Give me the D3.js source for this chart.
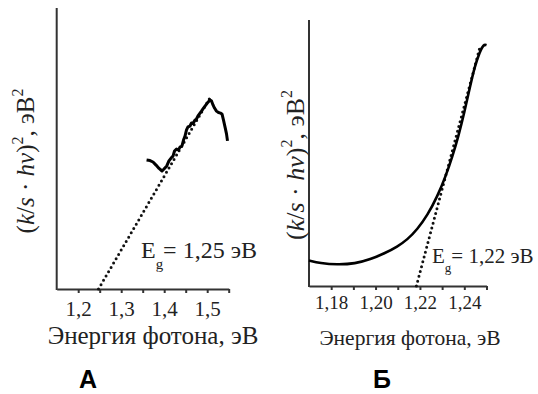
<!DOCTYPE html>
<html>
<head>
<meta charset="utf-8">
<script src="https://cdn.jsdelivr.net/npm/d3@7"></script>
<style>
  body { margin: 0; background: #fff; }
</style>
</head>
<body>
<div id="chart"></div>
<script>
var SERIF = "Liberation Serif";

// panel A: measured (k/s*hv)^2 vs photon energy
var aX = [1.359, 1.367, 1.374, 1.381, 1.388, 1.395, 1.3995, 1.406, 1.411, 1.416, 1.4205, 1.424, 1.4286, 1.4333, 1.4367, 1.4414,
          1.4449, 1.4484, 1.4519, 1.4553, 1.46, 1.4635, 1.467, 1.4716, 1.4751, 1.4786, 1.4833, 1.4867, 1.4902, 1.4949, 1.4984,
          1.5019, 1.5065, 1.51, 1.5135, 1.517, 1.5216, 1.5263, 1.5309, 1.5344, 1.5379, 1.5414, 1.5449, 1.5472];
var aY = [45.9, 45.7, 45.2, 44.1, 42.9, 42.0, 42.7, 43.8, 45.6, 46.6, 47.3, 49.1, 49.8, 49.5, 50.5, 50.9,
          53.0, 54.4, 56.6, 57.7, 58.0, 59.1, 58.9, 60.1, 60.5, 61.6, 62.6, 63.3, 64.1, 65.1, 65.8,
          66.5, 67.3, 66.9, 65.5, 64.4, 63.3, 62.8, 62.6, 62.3, 60.1, 57.7, 55.2, 52.7];
var aFitX = [1.2472, 1.51];
var aFitY = [0, 69.0];
var aTicks = [1.2, 1.25, 1.3, 1.35, 1.4, 1.45, 1.5, 1.55];
var aLabels = [1.2, 1.3, 1.4, 1.5];

// panel B
var bX = [1.17, 1.175, 1.1827, 1.1908, 1.1976, 1.2044, 1.2098, 1.2143, 1.2188, 1.2234, 1.2279, 1.2315, 1.2347,
          1.2374, 1.2401, 1.2424, 1.2447, 1.2469, 1.2487, 1.25];
var bY = [9.6, 8.6, 8.0, 8.4, 10.0, 12.4, 14.8, 17.4, 21.3, 26.6, 33.8, 41.0, 48.9,
          56.5, 65.6, 74.3, 82.6, 87.9, 90.9, 90.5];
var bFitX = [1.2184, 1.247];
var bFitY = [0, 89.7];
var bTicks = [1.18, 1.19, 1.2, 1.21, 1.22, 1.23, 1.24, 1.25];
var bLabels = [1.18, 1.2, 1.22, 1.24];

var svg = d3.select("#chart").append("svg")
    .attr("width", 538)
    .attr("height", 394);

function panel(o) {
    var x = d3.scaleLinear().domain(o.xDom).range([o.left, o.right]);
    var y = d3.scaleLinear().domain([0, 100]).range([o.bottom, o.top]);
    var g = svg.append("g");

    var fmt = function(d) {
        var hit = o.labels.some(function(v) { return Math.abs(v - d) < 1e-9; });
        return hit ? d3.format(o.fmt)(d).replace(".", ",") : "";
    };
    var ax = g.append("g")
        .attr("transform", "translate(0," + o.bottom + ")")
        .call(d3.axisBottom(x).tickValues(o.ticks).tickSize(4).tickSizeOuter(0).tickPadding(o.tickPad).tickFormat(fmt));
    ax.attr("font-family", SERIF).attr("font-size", o.tickSize);
    ax.selectAll("path, line").attr("stroke", "#333").attr("stroke-width", 2);
    ax.selectAll("text").attr("fill", "#222");

    g.append("line")
        .attr("x1", o.left).attr("x2", o.left)
        .attr("y1", o.top).attr("y2", o.bottom + 1)
        .attr("stroke", "#333").attr("stroke-width", 2);

    var line = d3.line().x(function(d) { return x(d[0]); }).y(function(d) { return y(d[1]); });

    g.append("path")
        .datum(d3.zip(o.fitX, o.fitY))
        .attr("d", line)
        .attr("fill", "none").attr("stroke", "#111")
        .attr("stroke-width", 3).attr("stroke-linecap", "round")
        .attr("stroke-dasharray", "0 5");

    g.append("path")
        .datum(d3.zip(o.dataX, o.dataY))
        .attr("d", line.curve(o.curve))
        .attr("fill", "none").attr("stroke", "#000")
        .attr("stroke-width", o.width).attr("stroke-linejoin", "round");

    // y-axis label
    var ys = o.ylSize, sup = Math.round(ys * 0.62), up = Math.round(ys * 0.45);
    var yl = g.append("text")
        .attr("transform", "translate(" + o.ylX + "," + o.ylY + ") rotate(-90)")
        .attr("text-anchor", "middle")
        .attr("font-family", SERIF)
        .attr("font-size", ys)
        .attr("fill", "#222");
    yl.append("tspan").text("(");
    yl.append("tspan").attr("font-style", "italic").text("k");
    yl.append("tspan").text("/");
    yl.append("tspan").attr("font-style", "italic").text("s");
    yl.append("tspan").text(" · ");
    yl.append("tspan").attr("font-style", "italic").text("hν");
    yl.append("tspan").text(")");
    yl.append("tspan").attr("dy", -up).attr("font-size", sup).text("2");
    yl.append("tspan").attr("dy", up).text(", эВ");
    yl.append("tspan").attr("dy", -up).attr("font-size", sup).text("2");

    g.append("text")
        .attr("x", o.xlX).attr("y", o.xlY)
        .attr("text-anchor", "middle")
        .attr("font-family", SERIF)
        .attr("font-size", o.xlSize)
        .attr("fill", "#222")
        .text("Энергия фотона, эВ");

    var eg = g.append("text")
        .attr("x", o.egX).attr("y", o.egY)
        .attr("font-family", SERIF)
        .attr("font-size", o.egSize)
        .attr("fill", "#222");
    eg.append("tspan").text("E");
    eg.append("tspan").attr("dy", o.egSize * 0.45).attr("font-size", o.egSize * 0.62).text("g");
    eg.append("tspan").attr("dy", -o.egSize * 0.45).text("= " + o.eg + " эВ");

    svg.append("text")
        .attr("x", o.letterX).attr("y", 388)
        .attr("text-anchor", "middle")
        .attr("font-family", "Liberation Sans")
        .attr("font-weight", "bold")
        .attr("font-size", 25)
        .attr("fill", "#000")
        .text(o.letter);
}

panel({
    xDom: [1.15, 1.55], left: 56.7, right: 228.7, top: 8, bottom: 289,
    ticks: aTicks, labels: aLabels, fmt: ".1f", tickSize: 21, tickPad: 8,
    dataX: aX, dataY: aY, fitX: aFitX, fitY: aFitY,
    curve: d3.curveLinear, width: 3,
    ylX: 34, ylY: 161, ylSize: 25, xlX: 153, xlY: 344, xlSize: 25,
    egX: 141, egY: 258, egSize: 24, eg: "1,25",
    letter: "А", letterX: 88
});

panel({
    xDom: [1.17, 1.25], left: 309, right: 486.5, top: 20, bottom: 286,
    ticks: bTicks, labels: bLabels, fmt: ".2f", tickSize: 19, tickPad: 6,
    dataX: bX, dataY: bY, fitX: bFitX, fitY: bFitY,
    curve: d3.curveBasis, width: 2.6,
    ylX: 304, ylY: 165, ylSize: 26, xlX: 410, xlY: 345, xlSize: 21.5,
    egX: 432, egY: 263, egSize: 21, eg: "1,22",
    letter: "Б", letterX: 382
});
</script>
</body>
</html>
